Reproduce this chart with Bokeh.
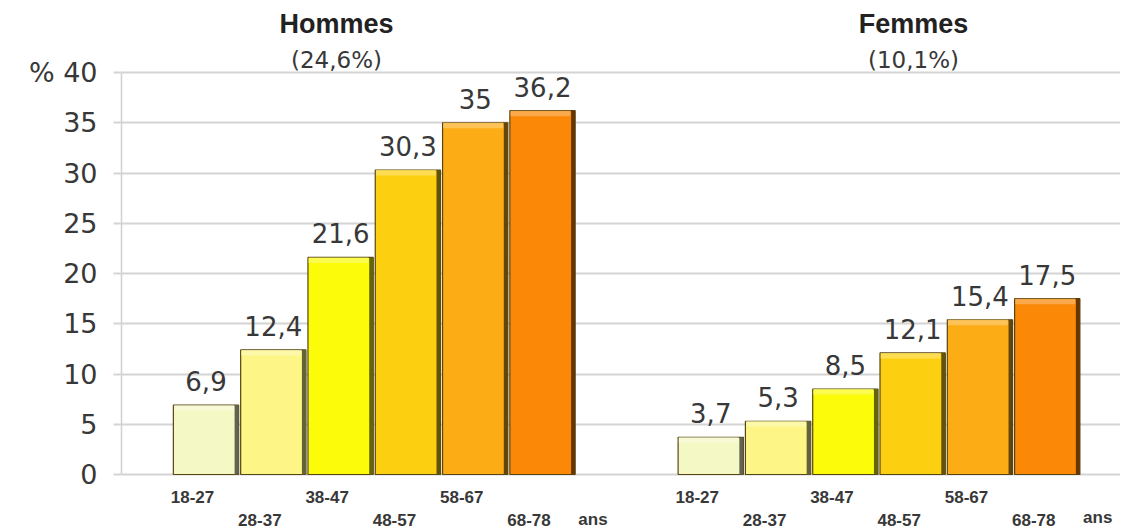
from bokeh.plotting import figure
from bokeh.models import ColumnDataSource, Range1d, FixedTicker
from bokeh.core.properties import value
from bokeh.embed import file_html
from bokeh.resources import INLINE

# ---- data ----
age_groups = ["18-27", "28-37", "38-47", "48-57", "58-67", "68-78"]
hommes = [6.9, 12.4, 21.6, 30.3, 35.0, 36.2]
femmes = [3.7, 5.3, 8.5, 12.1, 15.4, 17.5]
group_titles = ["Hommes", "Femmes"]
group_totals = ["(24,6%)", "(10,1%)"]
bar_colors = ["#f4f8c4", "#fdf586", "#fbfb0a", "#fcd010", "#fcac14", "#fb8806"]
y_ticks = [0, 5, 10, 15, 20, 25, 30, 35, 40]
unit_label = "ans"

FONT = "Liberation Sans"
NUMFONT = "DejaVu Sans"
TEXT_COLOR = "#383838"


def fmt(v):
    s = ("%.1f" % v).rstrip("0").rstrip(".")
    return s.replace(".", ",")


def shade(hexc, f):
    h = hexc.lstrip("#")
    r, g, b = int(h[0:2], 16), int(h[2:4], 16), int(h[4:6], 16)
    if f < 1:
        r, g, b = int(r * f), int(g * f), int(b * f)
    else:
        t = f - 1
        r, g, b = int(r + (255 - r) * t), int(g + (255 - g) * t), int(b + (255 - b) * t)
    return "#%02x%02x%02x" % (r, g, b)


# layout of groups along a numeric x axis
n = len(age_groups)
group_start = [0.0, n + 1.5]
bar_w = 0.97
side_w = 0.06

PX_X = 67.3
PX_Y = 10.05
ZERO_PX = 474
fig_w, fig_h = 1120, 530
left_border = 121
frame_w = fig_w - left_border
x0 = -(205.5 - left_border) / PX_X
x1 = x0 + frame_w / PX_X
y1 = ZERO_PX / PX_Y
y0 = -(fig_h - ZERO_PX) / PX_Y


def ypx(py):
    return (ZERO_PX - py) / PX_Y


xs, tops, cols, labels, cats = [], [], [], [], []
for g, vals in enumerate([hommes, femmes]):
    for i, v in enumerate(vals):
        xs.append(group_start[g] + i)
        tops.append(v)
        cols.append(bar_colors[i])
        labels.append(fmt(v))
        cats.append(age_groups[i])

src = ColumnDataSource(dict(
    x=xs, top=tops, color=cols, label=labels, cat=cats,
    side_x=[x + bar_w / 2 - side_w / 2 for x in xs],
    side_color=[shade(c, 0.40) for c in cols],
    hi_x=[x - side_w / 2 for x in xs],
    hi_bottom=[t - 0.55 for t in tops],
    hi_color=[shade(c, 1.35) for c in cols],
    label_y=[t + 2.4 for t in tops],
    cat_x=[x - 0.2 for x in xs],
    cat_y=[(ypx(496) if (i % 2 == 0) else ypx(519)) for i in range(len(xs))],
))

p = figure(width=fig_w, height=fig_h, output_backend="svg", toolbar_location=None,
           x_range=Range1d(x0, x1), y_range=Range1d(y0, y1),
           x_axis_location=None, min_border_left=left_border, min_border_right=0,
           min_border_top=0, min_border_bottom=0)
p.outline_line_color = None
p.background_fill_color = "white"
p.border_fill_color = "white"
p.xgrid.grid_line_color = None
p.ygrid.grid_line_color = "#d4d4d4"
p.ygrid.grid_line_width = 2

yax = p.yaxis[0]
yax.ticker = FixedTicker(ticks=y_ticks)
yax.bounds = (0, 40)
yax.axis_line_color = "#d0d0d0"
yax.axis_line_width = 1.5
yax.major_tick_out = 8
yax.major_tick_in = 0
yax.major_tick_line_color = "#d4d4d4"
yax.major_tick_line_width = 2
yax.minor_tick_line_color = None
yax.major_label_standoff = 16
yax.major_label_text_font = NUMFONT
yax.major_label_text_font_size = "27px"
yax.major_label_text_color = TEXT_COLOR
yax.major_label_overrides = {40: "% 40"}

# bars
p.vbar(x="x", top="top", bottom=0, width=bar_w, fill_color="color",
       line_color="#574512", line_width=1.2, source=src)
# darker right side
p.vbar(x="side_x", top="top", bottom=0, width=side_w, fill_color="side_color",
       line_color=None, source=src)
# lighter top band
p.vbar(x="hi_x", top="top", bottom="hi_bottom", width=bar_w - side_w - 0.02,
       fill_color="hi_color", line_color=None, fill_alpha=0.8, source=src)

# value labels
p.text(x="x", y="label_y", text="label", source=src, text_align="center",
       text_baseline="alphabetic", text_font=value(NUMFONT), text_font_size="26px",
       text_color=TEXT_COLOR)

# category labels (staggered)
p.text(x="cat_x", y="cat_y", text="cat", source=src, text_align="center",
       text_baseline="middle", text_font=value(FONT), text_font_size="17px",
       text_font_style="bold", text_color=TEXT_COLOR)

# "ans" unit labels
ans_src = ColumnDataSource(dict(
    x=[gs + n - 1 + 0.75 for gs in group_start],
    y=[ypx(519), ypx(517)],
    t=[unit_label, unit_label]))
p.text(x="x", y="y", text="t", source=ans_src, text_align="center",
       text_baseline="middle", text_font=value(FONT), text_font_size="17px",
       text_font_style="bold", text_color=TEXT_COLOR)

# group titles
title_x = [(336 - 205.5) / PX_X, (913 - 205.5) / PX_X]
tsrc = ColumnDataSource(dict(
    x=title_x, y=[ypx(23)] * 2, t=group_titles,
    y2=[ypx(59)] * 2, t2=group_totals))
p.text(x="x", y="y", text="t", source=tsrc, text_align="center",
       text_baseline="middle", text_font=value(FONT), text_font_size="27px",
       text_font_style="bold", text_color="#222222")
p.text(x="x", y="y2", text="t2", source=tsrc, text_align="center",
       text_baseline="middle", text_font=value(NUMFONT), text_font_size="23px",
       text_color=TEXT_COLOR)

open("out.html", "w").write(file_html(p, INLINE))
